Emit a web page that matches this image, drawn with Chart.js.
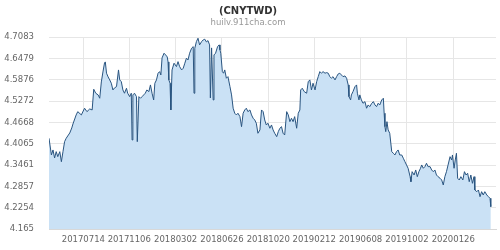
<!DOCTYPE html>
<html>
<head>
<meta charset="utf-8">
<title>CNYTWD</title>
<script src="https://cdn.jsdelivr.net/npm/chart.js@4/dist/chart.umd.min.js"></script>
<style>
    html, body { margin: 0; padding: 0; background: #fff; }
    #wrap { width: 500px; height: 250px; }
</style>
</head>
<body>
<div id="wrap"><canvas id="rateChart" width="500" height="250"></canvas></div>
<script>
// ==========================================
// CNY -> TWD exchange rate
// ==========================================

const dates = [
    '20170419','20170425','20170429','20170503','20170507','20170511','20170516','20170520','20170524','20170528',
    '20170601','20170610','20170615','20170618','20170626','20170630','20170709','20170717','20170723','20170730',
    '20170805','20170809','20170814','20170820','20170824','20170828','20170901','20170905','20170907','20170910',
    '20170914','20170918','20170922','20170926','20170930','20171005','20171010','20171013','20171017','20171021',
    '20171025','20171030','20171102','20171107','20171111','20171113','20171115','20171119','20171124','20171126',
    '20171130','20171204','20171208','20171212','20171216','20171220','20171225','20171229','20180102','20180106',
    '20180109','20180113','20180117','20180121','20180124','20180127','20180201','20180205','20180209','20180211',
    '20180213','20180216','20180218','20180221','20180226','20180304','20180308','20180312','20180317','20180321',
    '20180325','20180329','20180402','20180406','20180411','20180415','20180417','20180419','20180423','20180427',
    '20180501','20180506','20180510','20180514','20180518','20180522','20180526','20180528','20180531','20180604',
    '20180606','20180610','20180615','20180619','20180621','20180623','20180627','20180630','20180703','20180707',
    '20180711','20180716','20180720','20180724','20180728','20180801','20180805','20180810','20180814','20180818',
    '20180822','20180826','20180830','20180904','20180908','20180912','20180916','20180920','20180924','20180929',
    '20181003','20181007','20181011','20181015','20181019','20181024','20181028','20181101','20181105','20181110',
    '20181114','20181118','20181122','20181126','20181130','20181205','20181209','20181213','20181217','20181221',
    '20181225','20181230','20190103','20190107','20190109','20190113','20190118','20190124','20190128','20190201',
    '20190205','20190209','20190214','20190218','20190222','20190226','20190302','20190306','20190311','20190315',
    '20190319','20190323','20190327','20190331','20190405','20190409','20190413','20190417','20190421','20190425',
    '20190430','20190504','20190508','20190510','20190514','20190516','20190520','20190525','20190529','20190531',
    '20190604','20190606','20190610','20190614','20190619','20190623','20190627','20190701','20190706','20190710',
    '20190714','20190718','20190722','20190726','20190731','20190804','20190806','20190808','20190810','20190813',
    '20190816','20190820','20190825','20190829','20190902','20190906','20190910','20190914','20190919','20190923',
    '20190927','20191001','20191005','20191010','20191012','20191015','20191020','20191024','20191028','20191101',
    '20191105','20191108','20191112','20191116','20191120','20191124','20191129','20191203','20191207','20191211',
    '20191215','20191219','20191224','20191228','20200101','20200105','20200109','20200113','20200118','20200122',
    '20200124','20200128','20200131','20200203','20200206','20200210','20200214','20200219','20200223','20200227',
    '20200302','20200306','20200310','20200314','20200318','20200320','20200325','20200329','20200402','20200406',
    '20200410','20200414','20200419','20200423','20200427','20200429'
];

const rates = [
    4.4220, 4.3747, 4.3889, 4.3662, 4.3841, 4.3699, 4.3841, 4.3557, 4.3841, 4.4124,
    4.4220, 4.4371, 4.4512, 4.4626, 4.4881, 4.4974, 4.4881, 4.5071, 4.4974, 4.5051,
    4.5022, 4.5609, 4.5496, 4.5448, 4.5354, 4.5816, 4.6099, 4.6354, 4.6383, 4.6063,
    4.5958, 4.5873, 4.5779, 4.5589, 4.5646, 4.5683, 4.6156, 4.5873, 4.5824, 4.5589,
    4.5496, 4.5637, 4.5496, 4.5399, 4.5496, 4.4172, 4.5448, 4.5496, 4.5399, 4.4124,
    4.5399, 4.5354, 4.5399, 4.5448, 4.5496, 4.5589, 4.5541, 4.5731, 4.5496, 4.5306,
    4.5779, 4.5873, 4.6063, 4.6108, 4.6014, 4.6496, 4.6629, 4.6581, 4.6524, 4.6383,
    4.5873, 4.5779, 4.5022, 4.6156, 4.6346, 4.6250, 4.6391, 4.6250, 4.6156, 4.6204,
    4.6346, 4.6488, 4.6439, 4.6629, 4.6771, 4.6816, 4.5496, 4.6771, 4.6958, 4.7054,
    4.6865, 4.6958, 4.7006, 4.7026, 4.6950, 4.6986, 4.6865, 4.5363, 4.6780, 4.5306,
    4.6581, 4.6629, 4.6816, 4.6865, 4.6723, 4.6629, 4.6108, 4.6063, 4.6156, 4.5921,
    4.5966, 4.5683, 4.5448, 4.5071, 4.4929, 4.4881, 4.4929, 4.4833, 4.4549, 4.4929,
    4.5022, 4.5071, 4.4974, 4.5022, 4.4881, 4.4787, 4.4739, 4.4646, 4.4362, 4.4456,
    4.5022, 4.4974, 4.4739, 4.4597, 4.4646, 4.4504, 4.4597, 4.4456, 4.4362, 4.4266,
    4.4407, 4.4504, 4.4549, 4.4362, 4.4314, 4.4974, 4.4881, 4.4691, 4.4787, 4.4691,
    4.4833, 4.4504, 4.4929, 4.5022, 4.5589, 4.5637, 4.5541, 4.5496, 4.5824, 4.5873,
    4.5589, 4.5779, 4.5589, 4.5824, 4.5966, 4.6108, 4.6063, 4.6108, 4.6063, 4.6080,
    4.6063, 4.5966, 4.5921, 4.5966, 4.5873, 4.5966, 4.6043, 4.6063, 4.6014, 4.5966,
    4.5986, 4.5921, 4.5731, 4.5399, 4.5306, 4.5448, 4.5541, 4.5683, 4.5731, 4.5496,
    4.5306, 4.5448, 4.5306, 4.5212, 4.5258, 4.5071, 4.5164, 4.5116, 4.5212, 4.5258,
    4.5164, 4.5116, 4.5212, 4.5164, 4.5306, 4.5354, 4.4929, 4.4549, 4.4407, 4.4691,
    4.4456, 4.4362, 4.3841, 4.3795, 4.3747, 4.3841, 4.3889, 4.3747, 4.3747, 4.3654,
    4.3557, 4.3464, 4.3370, 4.3132, 4.2990, 4.3274, 4.3180, 4.3322, 4.3132, 4.3274,
    4.3370, 4.3464, 4.3370, 4.3416, 4.3512, 4.3416, 4.3416, 4.3322, 4.3274, 4.3322,
    4.3180, 4.3132, 4.3087, 4.3039, 4.2897, 4.3132, 4.3274, 4.3464, 4.3699, 4.3605,
    4.3747, 4.3370, 4.3605, 4.3795, 4.3087, 4.3039, 4.3132, 4.3039, 4.3274, 4.3180,
    4.3229, 4.2990, 4.3180, 4.2945, 4.3132, 4.2755, 4.2707, 4.2755, 4.2565, 4.2707,
    4.2614, 4.2707, 4.2614, 4.2565, 4.2520, 4.2282
];

const xTickLabels = ['20170714', '20171106', '20180302', '20180626', '20181020',
                     '20190212', '20190608', '20191002', '20200126'];
const yTickLabels = ['4.165', '4.2254', '4.2857', '4.3461', '4.4065',
                     '4.4668', '4.5272', '4.5876', '4.6479', '4.7083'];
const xAxisEnd = '20200512';

// yyyymmdd -> whole days since epoch (no date adapter offline, so a linear axis)
function toDay(s) {
    return Date.UTC(+s.slice(0, 4), +s.slice(4, 6) - 1, +s.slice(6, 8)) / 86400000;
}

const FONT = "'DejaVu Sans', 'Liberation Sans', sans-serif";
const points = dates.map((d, i) => ({ x: toDay(d), y: rates[i] }));

new Chart(document.getElementById('rateChart'), {
    type: 'line',
    data: {
        datasets: [{
            label: 'CNYTWD',
            data: points,
            borderColor: '#2a5580',
            borderWidth: 1,
            backgroundColor: 'rgb(202, 225, 245)',
            fill: 'start',
            pointRadius: 0,
            tension: 0
        }]
    },
    options: {
        responsive: false,
        animation: false,
        layout: { padding: { left: 0, right: 4, top: 0, bottom: 0 } },
        plugins: {
            legend: { display: false },
            tooltip: { enabled: false },
            title: {
                display: true,
                text: '(CNYTWD)',
                color: '#333',
                font: { family: FONT, size: 10, weight: 'bold' },
                padding: { top: 5, bottom: 1 }
            },
            subtitle: {
                display: true,
                text: 'huilv.911cha.com',
                color: '#999',
                font: { family: FONT, size: 8.5 },
                padding: { top: 0, bottom: 9 }
            }
        },
        scales: {
            x: {
                type: 'linear',
                min: toDay(dates[0]),
                max: toDay(xAxisEnd),
                afterBuildTicks: scale => {
                    scale.ticks = xTickLabels.map(s => ({ value: toDay(s) }));
                },
                afterFit: scale => { scale.height = 21; },
                ticks: {
                    autoSkip: false,
                    maxRotation: 0,
                    padding: 6,
                    color: '#666',
                    font: { family: FONT, size: 8.5 },
                    callback: (value, index) => xTickLabels[index]
                },
                grid: { color: '#e6e6e6', drawTicks: false },
                border: { color: '#d8d8d8' }
            },
            y: {
                min: parseFloat(yTickLabels[0]),
                max: parseFloat(yTickLabels[yTickLabels.length - 1]),
                afterBuildTicks: scale => {
                    scale.ticks = yTickLabels.map(s => ({ value: parseFloat(s) }));
                },
                afterFit: scale => { scale.width = 49; },
                ticks: {
                    padding: 15,
                    color: '#666',
                    font: { family: FONT, size: 8.5 },
                    callback: (value, index) => yTickLabels[index]
                },
                grid: { color: '#e6e6e6', drawTicks: false },
                border: { display: false }
            }
        }
    }
});
</script>
</body>
</html>
